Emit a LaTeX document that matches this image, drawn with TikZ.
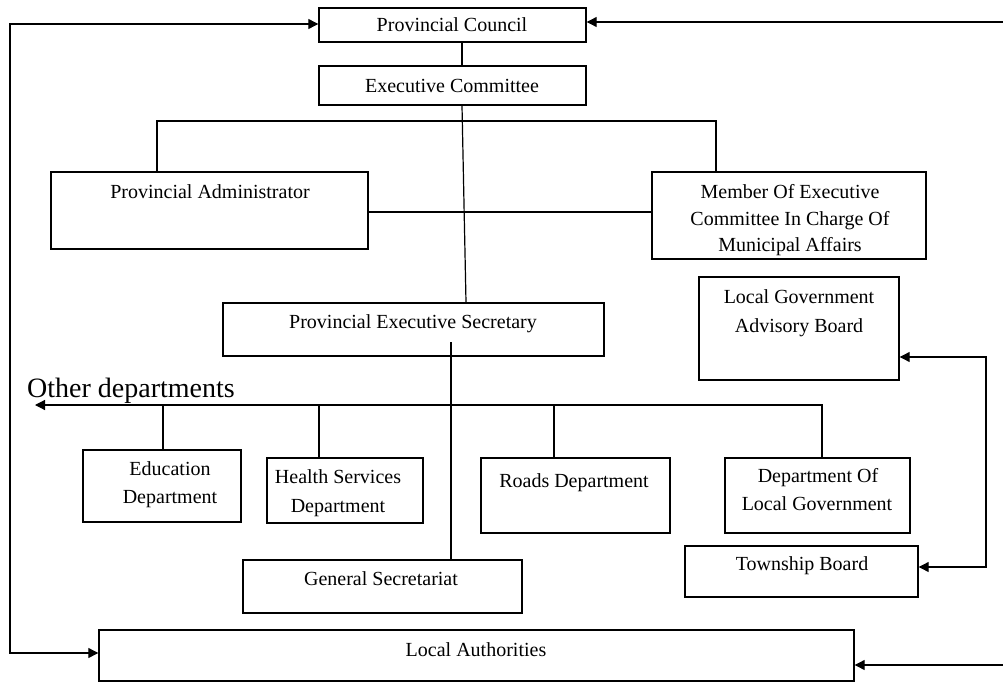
\documentclass[tikz,border=0pt]{standalone}
\usepackage{fontspec}
\setmainfont{Liberation Serif}
\usetikzlibrary{arrows.meta}
\tikzset{
  box/.style={draw, line width=1.4pt, inner sep=0pt, fill=none},
  txt/.style={inner sep=0pt, anchor=base, font=\fontsize{20}{24}\selectfont},
  big/.style={inner sep=0pt, anchor=base west, font=\fontsize{28}{32}\selectfont},
  conn/.style={line width=1.2pt},
  arr/.style={conn, -{Triangle[length=10pt,width=10pt]}},
  arrboth/.style={conn, {Triangle[length=10pt,width=10pt]}-{Triangle[length=10pt,width=10pt]}}
}
\begin{document}
\begin{tikzpicture}[x=1pt,y=-1pt]
\useasboundingbox (0,0) rectangle (1003,682);
% boxes
\node[box, minimum width=267pt, minimum height=34pt] (pc) at (452.5,25) {};
\node[box, minimum width=267pt, minimum height=39pt] (ec) at (452.5,85.5) {};
\node[box, minimum width=317pt, minimum height=77pt] (pa) at (209.5,210.5) {};
\node[box, minimum width=274pt, minimum height=87pt] (mem) at (789,215.5) {};
\node[box, minimum width=381pt, minimum height=53pt] (pes) at (413.5,329.5) {};
\node[box, minimum width=200pt, minimum height=103pt] (lgab) at (799,328.5) {};
\node[box, minimum width=158pt, minimum height=72pt] (edu) at (162,486) {};
\node[box, minimum width=156pt, minimum height=65pt] (hs) at (345,490.5) {};
\node[box, minimum width=189pt, minimum height=75pt] (rd) at (575.5,495.5) {};
\node[box, minimum width=185pt, minimum height=75pt] (dlg) at (817.5,495.5) {};
\node[box, minimum width=279pt, minimum height=53pt] (gs) at (382.5,586.5) {};
\node[box, minimum width=233pt, minimum height=51pt] (tb) at (801.5,571.5) {};
\node[box, minimum width=755pt, minimum height=51pt] (la) at (476.5,655.5) {};
% texts
\node[txt] (tpc) at (452,32) {Provincial Council};
\node[txt] (tec) at (452,93) {Executive Committee};
\node[txt] (tpa) at (210,198) {Provincial Administrator};
\node[txt] (tm1) at (790,198) {Member Of Executive};
\node[txt] (tm2) at (790,225) {Committee In Charge Of};
\node[txt] (tm3) at (790,251) {Municipal Affairs};
\node[txt] (tpes) at (413,328) {Provincial Executive Secretary};
\node[txt] (tlg1) at (799,303) {Local Government};
\node[txt] (tlg2) at (799,332) {Advisory Board};
\node[txt] (ted1) at (170,475) {Education};
\node[txt] (ted2) at (170,503) {Department};
\node[txt] (ths1) at (338,483) {Health Services};
\node[txt] (ths2) at (338,512) {Department};
\node[txt] (trd) at (574,487) {Roads Department};
\node[txt] (tdl1) at (818,482) {Department Of};
\node[txt] (tdl2) at (817,510) {Local Government};
\node[txt] (tgs) at (381,585) {General Secretariat};
\node[txt] (ttb) at (802,570) {Township Board};
\node[txt] (tla) at (476,656) {Local Authorities};
\node[big] (tod) at (27,397) {Other departments};
% helper coordinates
\coordinate (v1) at (462,0);
\coordinate (v2) at (466,0);
\coordinate (b1) at (157,121);
\coordinate (b2) at (716,121);
\coordinate (pm) at (0,212);
\coordinate (s1) at (451,342);
\coordinate (od) at (35,405);
\coordinate (d1) at (163,405);
\coordinate (d2) at (319,405);
\coordinate (d3) at (554,405);
\coordinate (d4) at (822,405);
\coordinate (l1) at (10,24);
\coordinate (l2) at (10,653);
\coordinate (r1) at (1003,22);
\coordinate (r2) at (1003,665);
\coordinate (t1) at (986,567);
\coordinate (t2) at (986,357);
% connectors
\draw[conn] (pc.south -| v1) -- (ec.north -| v1);
\draw[conn] (ec.south -| v1) -- (pes.north -| v2);
\draw[conn] (pa.north -| b1) -- (b1) -- (b2) -- (mem.north -| b2);
\draw[conn] (pa.east |- pm) -- (mem.west |- pm);
\draw[conn] (s1) -- (gs.north -| s1);
\draw[arr] (dlg.north -| d4) -- (d4) -- (od);
\draw[conn] (edu.north -| d1) -- (d1);
\draw[conn] (hs.north -| d2) -- (d2);
\draw[conn] (rd.north -| d3) -- (d3);
\draw[arrboth] (pc.west |- l1) -- (l1) -- (l2) -- (la.west |- l2);
\draw[arr] (r1) -- (pc.east |- r1);
\draw[arr] (r2) -- (la.east |- r2);
\draw[arrboth] (tb.east |- t1) -- (t1) -- (t2) -- (lgab.east |- t2);
\end{tikzpicture}
\end{document}
